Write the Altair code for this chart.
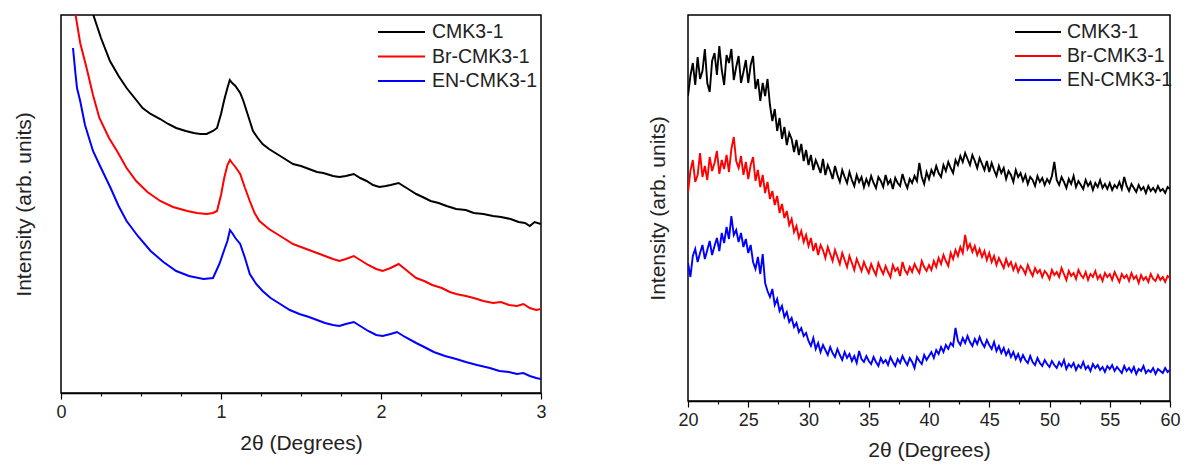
import altair as alt
import pandas as pd

SERIES = ["CMK3-1", "Br-CMK3-1", "EN-CMK3-1"]
COLORS = ["#000000", "#ff0000", "#0000ff"]
LEGEND_ROW = [0, 1, 2]

# ---------------- left panel (small angle) ----------------
sa_x_black = [0.19, 0.2, 0.25, 0.306, 0.36, 0.41, 0.46, 0.51, 0.56, 0.62, 0.67, 0.72, 0.78, 0.83, 0.87, 0.91,
              0.95, 0.975, 1.0, 1.02, 1.04, 1.055, 1.07, 1.09, 1.12, 1.14, 1.16, 1.18, 1.2, 1.23, 1.26, 1.3,
              1.35, 1.4, 1.45, 1.5, 1.55, 1.6, 1.64, 1.7, 1.74, 1.78, 1.83, 1.87, 1.91, 1.95, 1.99, 2.03,
              2.06, 2.11, 2.15, 2.18, 2.22, 2.26, 2.31, 2.36, 2.41, 2.47, 2.53, 2.58, 2.64, 2.7, 2.75, 2.81,
              2.86, 2.9, 2.93, 2.96, 3.0]
sa_i_black = [395, 379, 355, 332, 317, 305, 295, 285, 279, 274, 269, 265, 262, 260, 259, 259,
              262, 265, 279, 293, 305, 313, 310, 307, 300, 292, 282, 272, 262, 255, 249, 244,
              239, 234, 229, 227, 224, 221, 220, 217, 216, 217, 219, 215, 212, 208, 206, 207,
              208, 210, 206, 203, 199, 196, 192, 190, 187, 184, 183, 180, 179, 177, 176, 174,
              171, 170, 167, 171, 169]

sa_x_red = [0.08, 0.09, 0.12, 0.16, 0.2, 0.24, 0.3, 0.35, 0.41, 0.47, 0.54, 0.62, 0.7, 0.79, 0.85, 0.91,
            0.95, 0.975, 1.0, 1.02, 1.04, 1.056, 1.07, 1.09, 1.12, 1.15, 1.18, 1.21, 1.24, 1.3, 1.35, 1.4,
            1.45, 1.5, 1.55, 1.6, 1.65, 1.7, 1.74, 1.78, 1.83, 1.87, 1.92, 1.97, 2.01, 2.06, 2.11, 2.15,
            2.18, 2.22, 2.27, 2.32, 2.38, 2.43, 2.47, 2.53, 2.58, 2.64, 2.7, 2.75, 2.8, 2.85, 2.89, 2.93,
            2.97, 3.0]
sa_i_red = [400, 379, 350, 325, 298, 275, 255, 242, 225, 212, 201, 192, 186, 182, 180, 179,
            180, 182, 198, 215, 228, 233, 230, 226, 219, 205, 192, 180, 172, 164, 159, 154,
            149, 146, 143, 140, 137, 134, 132, 134, 137, 133, 128, 124, 122, 125, 129, 124,
            120, 115, 112, 108, 105, 101, 99, 97, 95, 92, 90, 91, 88, 87, 89, 85,
            83, 84]

sa_x_blue = [0.075, 0.09, 0.1, 0.12, 0.15, 0.2, 0.25, 0.31, 0.36, 0.41, 0.48, 0.56, 0.64, 0.72, 0.8, 0.89,
             0.95, 0.99, 1.02, 1.04, 1.056, 1.07, 1.09, 1.12, 1.15, 1.18, 1.22, 1.26, 1.31, 1.37, 1.43, 1.49,
             1.55, 1.6, 1.65, 1.7, 1.74, 1.78, 1.83, 1.87, 1.92, 1.97, 2.01, 2.06, 2.1, 2.15, 2.22, 2.27,
             2.33, 2.4, 2.47, 2.53, 2.6, 2.68, 2.74, 2.8, 2.85, 2.89, 2.93, 2.97, 3.0]
sa_i_blue = [345, 320, 305, 292, 268, 242, 225, 205, 187, 172, 157, 142, 131, 122, 117, 114,
             115, 129, 143, 152, 163, 160, 155, 149, 135, 119, 109, 102, 95, 89, 83, 79,
             76, 73, 70, 68, 67, 69, 71, 67, 62, 58, 57, 59, 61, 56, 50, 46,
             41, 37, 34, 31, 28, 25, 22, 21, 19, 20, 17, 15, 14]

# ---------------- right panel (wide angle), 2θ from 20 to 60 every 0.2° ----------------
wa_x = [round(20 + 0.2 * k, 2) for k in range(201)]
wa_i_black = [
    305, 325, 338, 316, 344, 322, 330, 352, 318, 309, 340, 348, 326, 355, 331, 316, 346, 338, 352, 321, 334, 345, 318, 329, 341,
    318, 336, 345, 312, 322, 300, 318, 305, 322, 296, 280, 292, 270, 283, 262, 274, 256, 268, 262, 249, 261, 246, 257, 240, 251,
    236, 246, 231, 241, 235, 228, 242, 226, 236, 230, 222, 235, 226, 219, 231, 224, 218, 229, 221, 215, 226, 219, 224, 214, 222,
    216, 225, 218, 213, 224, 220, 214, 226, 217, 221, 212, 223, 218, 215, 227, 219, 213, 222, 218, 225, 220, 238, 224, 217, 229,
    222, 231, 226, 235, 228, 224, 236, 230, 239, 233, 228, 241, 236, 245, 239, 248, 242, 236, 246, 240, 233, 243, 237, 231, 240,
    229, 238, 231, 225, 235, 228, 233, 222, 230, 226, 219, 231, 224, 228, 220, 226, 217, 224, 221, 215, 225, 219, 223, 216, 222,
    218, 225, 239, 221, 216, 224, 219, 213, 222, 217, 225, 214, 220, 216, 212, 221, 215, 219, 211, 218, 214, 221, 213, 217, 212,
    218, 211, 216, 213, 219, 212, 224, 215, 210, 217, 213, 209, 216, 211, 214, 208, 215, 210, 213, 209, 215, 210, 212, 208, 214,
    212]
wa_i_red = [
    208, 230, 241, 219, 226, 248, 224, 235, 221, 244, 230, 238, 250, 227, 241, 232, 246, 229, 252, 264, 240, 233, 245, 226, 239,
    222, 236, 244, 220, 231, 214, 226, 208, 219, 202, 210, 196, 205, 188, 197, 183, 190, 176, 182, 169, 175, 163, 170, 159, 166,
    155, 163, 150, 158, 146, 156, 151, 143, 154, 147, 140, 151, 144, 137, 148, 141, 134, 145, 138, 131, 142, 136, 130, 139, 133,
    128, 137, 131, 126, 138, 132, 127, 135, 129, 124, 136, 130, 133, 125, 139, 131, 127, 134, 129, 137, 132, 128, 140, 134, 130,
    136, 131, 140, 134, 143, 137, 146, 140, 135, 148, 142, 151, 145, 154, 148, 166, 152, 157, 149, 155, 146, 152, 144, 150, 141,
    148, 139, 145, 136, 143, 138, 133, 142, 135, 139, 131, 137, 129, 135, 132, 127, 136, 130, 125, 133, 128, 131, 124, 130, 127,
    122, 131, 126, 129, 124, 133, 127, 121, 130, 125, 128, 122, 131, 126, 123, 129, 121, 127, 124, 130, 122, 126, 120, 128, 124,
    127, 121, 129, 124, 119, 127, 123, 126, 120, 128, 122, 125, 118, 126, 121, 124, 119, 127, 122, 120, 126, 121, 124, 119, 125,
    123]
wa_i_blue = [
    138, 124, 145, 152, 139, 148, 156, 142, 151, 160, 146, 155, 163, 150, 168, 158, 174, 162, 185, 166, 171, 159, 168, 154, 162,
    148, 156, 139, 132, 144, 127, 147, 118, 110, 104, 112, 96, 102, 90, 95, 84, 89, 79, 83, 74, 78, 69, 73, 65, 68,
    60, 55, 63, 52, 58, 49, 56, 51, 46, 54, 48, 44, 52, 46, 41, 49, 43, 47, 40, 45, 38, 50, 42, 39, 45,
    40, 37, 44, 39, 35, 43, 38, 41, 36, 44, 39, 35, 42, 38, 45, 40, 36, 43, 39, 33, 44, 40, 37, 46, 41,
    45, 49, 43, 51, 47, 54, 49, 56, 52, 58, 55, 73, 60, 56, 63, 58, 65, 59, 55, 62, 57, 64, 58, 54, 61,
    56, 52, 59, 50, 55, 48, 53, 46, 51, 44, 49, 42, 47, 40, 46, 41, 38, 45, 39, 36, 43, 38, 35, 41, 37,
    34, 40, 36, 33, 39, 35, 41, 32, 37, 34, 38, 31, 36, 33, 39, 32, 35, 30, 37, 33, 36, 31, 34, 29, 35,
    32, 36, 30, 34, 31, 28, 35, 30, 33, 29, 34, 27, 32, 30, 35, 28, 31, 29, 33, 27, 32, 30, 28, 33, 29,
    31]

left_ticks = [0, 0.25, 0.5, 0.75, 1, 1.25, 1.5, 1.75, 2, 2.25, 2.5, 2.75, 3]
right_ticks = [20, 22.5, 25, 27.5, 30, 32.5, 35, 37.5, 40, 42.5, 45, 47.5, 50, 52.5, 55, 57.5, 60]


def frame(xs, ys, name):
    return pd.DataFrame({"x": xs, "y": ys, "series": name})


left_df = pd.concat([frame(sa_x_black, sa_i_black, SERIES[0]),
                     frame(sa_x_red, sa_i_red, SERIES[1]),
                     frame(sa_x_blue, sa_i_blue, SERIES[2])])
right_df = pd.concat([frame(wa_x, wa_i_black, SERIES[0]),
                      frame(wa_x, wa_i_red, SERIES[1]),
                      frame(wa_x, wa_i_blue, SERIES[2])])
legend_df = pd.DataFrame({"series": SERIES, "row": LEGEND_ROW})
# legend key segments: each series gets a start (0) and end (1) point
legend_seg = pd.concat([legend_df.assign(end=0), legend_df.assign(end=1)])

FONT = "Liberation Sans"
color = alt.Color("series:N", scale=alt.Scale(domain=SERIES, range=COLORS), legend=None)


def panel(df, xdom, ydom, w, h, ticks, major, ypad, xpad, lx0, lx1, ltx, lrange, lw):
    xaxis = alt.Axis(
        values=ticks,
        labelExpr=f"datum.value % {major} === 0 ? format(datum.value, 'd') : ''",
        tickSize={"condition": {"test": f"datum.value % {major} === 0", "value": 6}, "value": 3},
        labelOverlap=False,
        labelFlush=False,
        grid=False,
        title="2θ (Degrees)",
        labelPadding=4,
        titlePadding=xpad,
    )
    yaxis = alt.Axis(title="Intensity (arb. units)", labels=False, ticks=False, domain=False,
                     grid=False, titlePadding=ypad)
    lines = alt.Chart(df).mark_line(strokeWidth=lw, clip=True).encode(
        x=alt.X("x:Q", scale=alt.Scale(domain=xdom, nice=False, zero=False), axis=xaxis),
        y=alt.Y("y:Q", scale=alt.Scale(domain=ydom, nice=False, zero=False), axis=yaxis),
        color=color,
    )
    ly = alt.Y("row:Q", scale=alt.Scale(domain=[0, 2], range=lrange, nice=False, zero=False), axis=None)
    keys = alt.Chart(legend_seg).mark_line(strokeWidth=2.2).encode(
        x=alt.X("end:Q", scale=alt.Scale(domain=[0, 1], range=[lx0, lx1], nice=False, zero=False), axis=None),
        y=ly, color=color, detail="series:N")
    texts = alt.Chart(legend_df).mark_text(align="left", baseline="middle", font=FONT,
                                           fontSize=19.5, color="#222222").encode(
        x=alt.value(ltx), y=ly, text="series:N")
    return alt.layer(lines, keys, texts).resolve_scale(x="independent", y="independent").properties(
        width=w, height=h)


left = panel(left_df, [0, 3], [0, 378], 480, 378, left_ticks, 1, 27, 11, 317, 364, 371, [17, 66], 2)
right = panel(right_df, [20, 60], [0, 386], 482, 386, right_ticks, 5, 20, 10, 327, 373, 379, [17, 65], 1.9)

chart = alt.hconcat(left, right, spacing=99).properties(
    padding={"left": 4, "top": 6, "right": 0, "bottom": 0}
).configure_view(
    stroke="black", strokeWidth=1.5
).configure_axis(
    labelFont=FONT, labelFontSize=18, labelColor="#222222",
    titleFont=FONT, titleFontSize=21, titleFontWeight="normal", titleColor="#222222",
    domainColor="black", domainWidth=1.5, tickColor="black", tickWidth=1.2,
)

chart.save("out.html", embed_options={"renderer": "svg", "actions": False})
